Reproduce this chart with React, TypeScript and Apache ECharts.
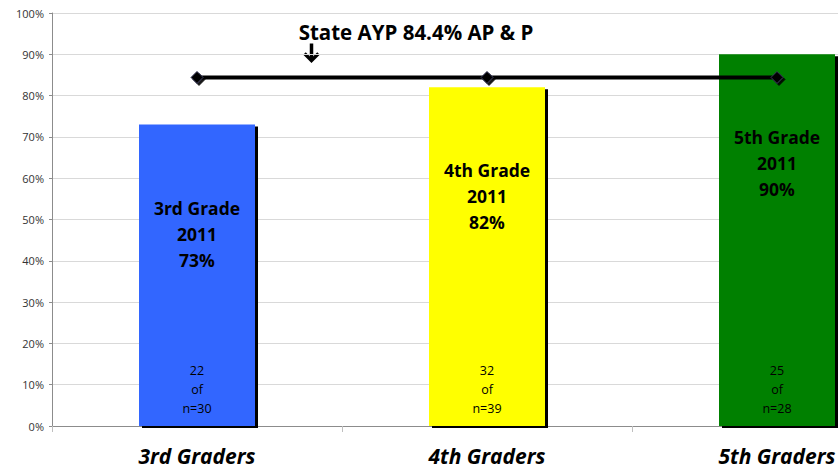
import React, { useEffect, useRef } from "react";
import * as echarts from "echarts";

const categories = ["3rd Graders", "4th Graders", "5th Graders"];
const gradeNames = ["3rd Grade", "4th Grade", "5th Grade"];
const years = ["2011", "2011", "2011"];
const percents = [73, 82, 90];
const passed = [22, 32, 25];
const totals = [30, 39, 28];
const barColors = ["#3366FF", "#FFFF00", "#008000"];
const stateAyp = [84.4, 84.4, 84.4];
const yTicks = [0, 10, 20, 30, 40, 50, 60, 70, 80, 90, 100];

const FONT = "'Open Sans', 'Noto Sans', sans-serif";

export default function App() {
  const ref = useRef<HTMLDivElement>(null);
  useEffect(() => {
    if (!ref.current) return;
    const chart = echarts.init(ref.current, null, { renderer: "svg" });
    chart.setOption({
      animation: false,
      backgroundColor: "#ffffff",
      title: {
        text: "State AYP 84.4% AP & P",
        left: 411,
        top: 16,
        textAlign: "center",
        textStyle: { fontFamily: FONT, fontWeight: "bold", fontSize: 20.5, color: "#000" },
      },
      graphic: [
        {
          type: "group",
          left: 302,
          top: 41,
          z: 10,
          children: [
            { type: "line", shape: { x1: 9, y1: 0, x2: 9, y2: 17 }, style: { stroke: "#000", lineWidth: 3.5 } },
            {
              type: "polyline",
              shape: { points: [[2, 10], [9, 17], [16, 10]] },
              style: { stroke: "#000", lineWidth: 3.5, fill: "none" },
            },
          ],
        },
      ],
      grid: { left: 52, top: 13, width: 870, height: 413, containLabel: false, outerBoundsMode: "none" },
      xAxis: {
        type: "category",
        data: categories,
        axisLine: { lineStyle: { color: "#8c8c8c" } },
        axisTick: { show: true, length: 6, lineStyle: { color: "#bfbfbf" } },
        axisLabel: {
          fontFamily: FONT,
          fontWeight: "bold",
          fontStyle: "italic",
          fontSize: 21,
          color: "#000",
          margin: 19,
        },
      },
      yAxis: {
        type: "value",
        min: yTicks[0],
        max: yTicks[yTicks.length - 1],
        interval: 10,
        axisLine: { show: true, lineStyle: { color: "#8c8c8c" } },
        axisTick: { show: true, length: 3, lineStyle: { color: "#8c8c8c" } },
        splitLine: { lineStyle: { color: "#d9d9d9" } },
        axisLabel: { formatter: "{value}%", fontFamily: FONT, fontSize: 11, color: "#333", margin: 8 },
      },
      series: [
        {
          type: "bar",
          barWidth: "40%",
          z: 2,
          data: percents.map((v, i) => ({
            value: v,
            itemStyle: { color: barColors[i] },
          })),
          itemStyle: { shadowColor: "#000", shadowOffsetX: 3, shadowOffsetY: 2, shadowBlur: 0 },
          label: {
            show: true,
            position: "insideTop",
            distance: 70,
            formatter: (p: any) => `${gradeNames[p.dataIndex]}\n${years[p.dataIndex]}\n${percents[p.dataIndex]}%`,
            fontFamily: FONT,
            fontWeight: "bold",
            fontSize: 17.5,
            lineHeight: 26,
            color: "#000",
          },
        },
        {
          type: "bar",
          barWidth: "40%",
          barGap: "-100%",
          z: 3,
          silent: true,
          data: percents,
          itemStyle: { color: "rgba(0,0,0,0)" },
          label: {
            show: true,
            position: "insideBottom",
            distance: 8,
            formatter: (p: any) => `${passed[p.dataIndex]}\nof\nn=${totals[p.dataIndex]}`,
            fontFamily: FONT,
            fontSize: 12.5,
            lineHeight: 19,
            color: "#000",
          },
        },
        {
          type: "line",
          data: stateAyp,
          z: 5,
          symbol: "diamond",
          symbolSize: 12,
          lineStyle: { color: "#000", width: 4 },
          itemStyle: {
            color: "#000",
            borderColor: "#3a3a5a",
            borderWidth: 1,
            shadowColor: "rgba(0,0,0,0.9)",
            shadowOffsetX: 2,
            shadowOffsetY: 2,
            shadowBlur: 0,
          },
        },
      ],
    });
    return () => chart.dispose();
  }, []);
  return <div ref={ref} style={{ position: "absolute", left: 0, top: 0, width: 838, height: 468 }} />;
}
